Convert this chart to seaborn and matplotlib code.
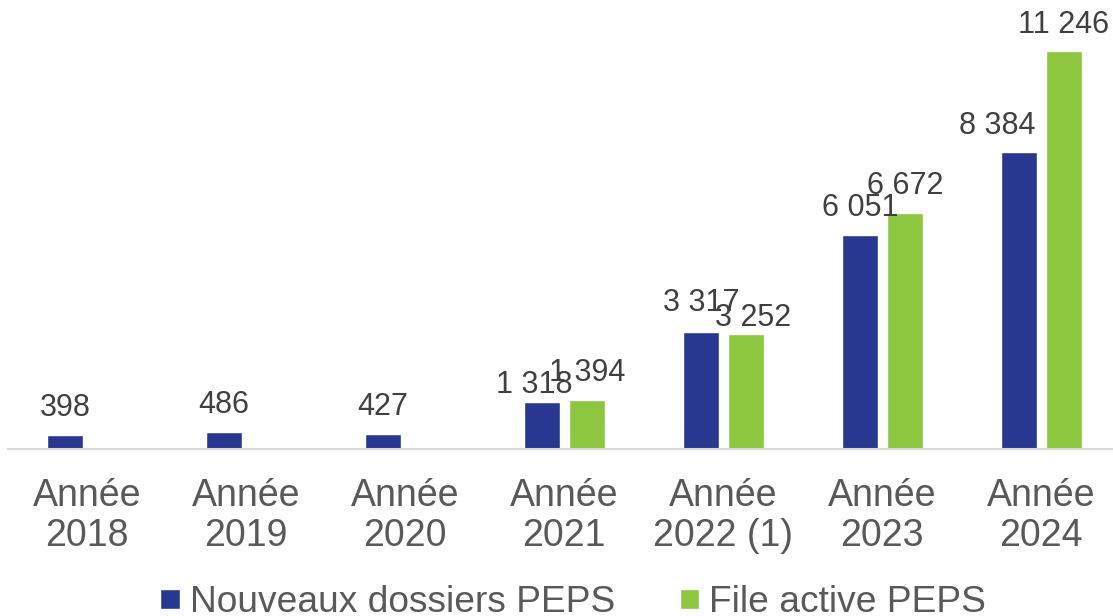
import matplotlib
matplotlib.use("Agg")
import matplotlib.pyplot as plt
import seaborn as sns
import pandas as pd
import numpy as np

categories = ["Année\n2018", "Année\n2019", "Année\n2020", "Année\n2021",
              "Année\n2022 (1)", "Année\n2023", "Année\n2024"]
series_names = ["Nouveaux dossiers PEPS", "File active PEPS"]
nouveaux = [398, 486, 427, 1318, 3317, 6051, 8384]
file_active = [np.nan, np.nan, np.nan, 1394, 3252, 6672, 11246]
colors = ["#283891", "#8DC63F"]

# label nudges (pixels) to reproduce the reference label placement
label_nudge = {(0, 3): (-8, -9), (1, 4): (7, -11), (0, 6): (-22, 0), (0, 4): (0, 2)}

rows = []
for c, v in zip(categories, nouveaux):
    rows.append({"cat": c, "serie": series_names[0], "val": v})
for c, v in zip(categories, file_active):
    if not np.isnan(v):
        rows.append({"cat": c, "serie": series_names[1], "val": v})
df = pd.DataFrame(rows)

sns.set_theme(style="white")
plt.rcParams["font.family"] = ["Liberation Sans", "DejaVu Sans"]

fig = plt.figure(figsize=(11.13, 6.16), dpi=100)
ax = fig.add_axes([0.007, 0.2711, 1.0, 0.718])

sns.barplot(data=df, x="cat", y="val", hue="serie", order=categories,
            hue_order=series_names, palette=colors, width=0.566, gap=0.2,
            errorbar=None, ax=ax, saturation=1, legend=True)

for si, cont in enumerate(ax.containers):
    for b in cont:
        h = b.get_height()
        if not np.isfinite(h) or h <= 0:
            continue
        xc = b.get_x() + b.get_width() / 2
        ci = int(round(xc))
        dx, dy = label_nudge.get((si, ci), (0, 0))
        ax.annotate(f"{h:,.0f}".replace(",", " "), xy=(xc, h),
                    xytext=(dx * 0.72, 8.3 + dy * 0.72), textcoords="offset points",
                    ha="center", va="bottom", fontsize=22, color="#404040")

ax.set_ylim(0, 12500)
ax.set_xlim(-0.5, 6.5)
ax.set_xlabel("")
ax.set_ylabel("")
ax.set_yticks([])
for s in ["left", "right", "top"]:
    ax.spines[s].set_visible(False)
ax.spines["bottom"].set_color("#d9d9d9")
ax.spines["bottom"].set_linewidth(1.5)
ax.tick_params(axis="x", length=0, pad=21)
for t in ax.get_xticklabels():
    t.set_fontsize(27)
    t.set_color("#595959")
    t.set_linespacing(1.13)

handles, labels = ax.get_legend_handles_labels()
ax.get_legend().remove()
fig.legend(handles, labels, loc="center", bbox_to_anchor=(0.515, 0.022),
           ncol=2, frameon=False, fontsize=26.7, labelcolor="#595959",
           handlelength=0.52, handleheight=0.46, handletextpad=0.27,
           columnspacing=1.75, borderpad=0.0)

fig.savefig("out.png", dpi=100)
